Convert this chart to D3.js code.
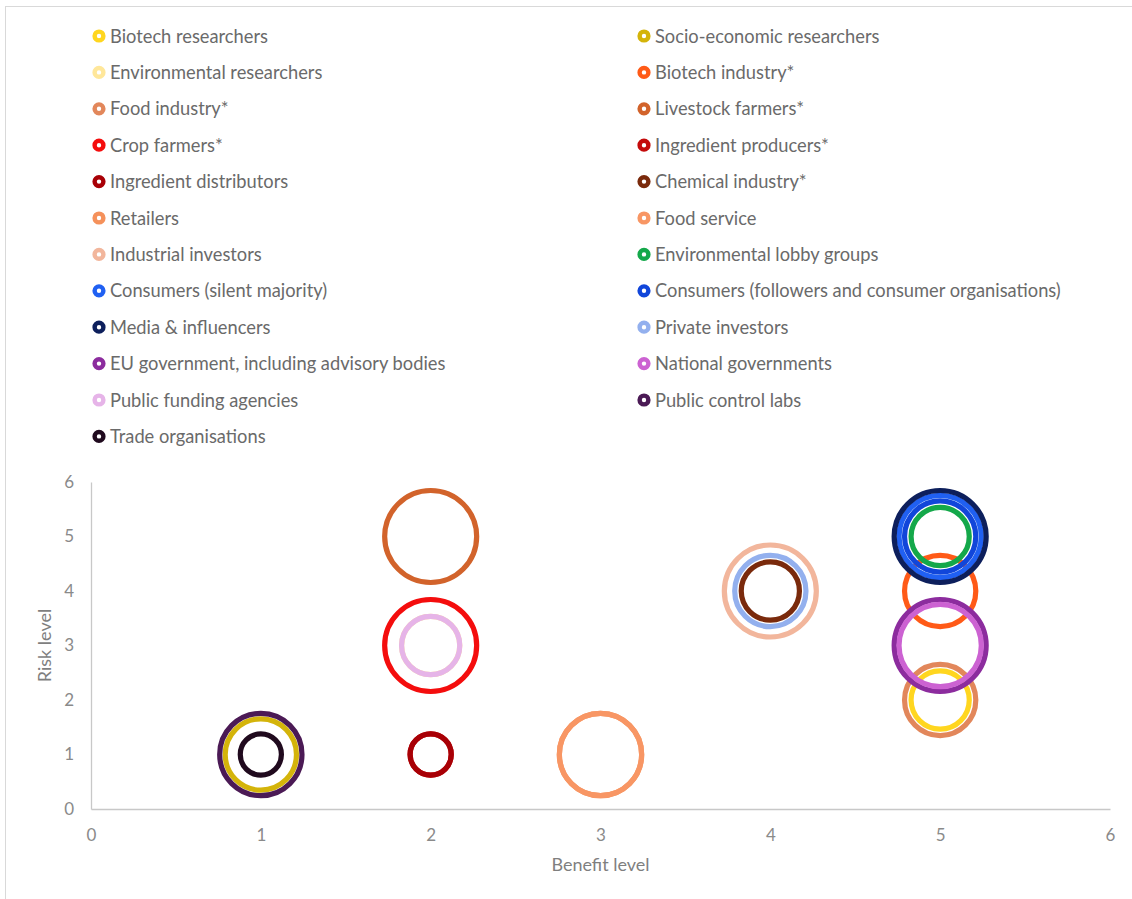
<!DOCTYPE html>
<html>
<head>
<meta charset="utf-8">
<script src="https://cdn.jsdelivr.net/npm/d3@7"></script>
<style>
  html, body { margin: 0; padding: 0; background: #fff; }
  svg { display: block; font-family: Lato, "Open Sans", sans-serif; }
</style>
</head>
<body>
<svg id="chart" width="1132" height="899"></svg>
<script>
// Stakeholder groups, in series order (later series are painted on top)
const stakeholders = [
  "Biotech researchers", "Socio-economic researchers", "Environmental researchers",
  "Biotech industry*", "Food industry*", "Livestock farmers*", "Crop farmers*",
  "Ingredient producers*", "Ingredient distributors", "Chemical industry*",
  "Retailers", "Food service", "Industrial investors", "Environmental lobby groups",
  "Consumers (silent majority)", "Consumers (followers and consumer organisations)",
  "Media & influencers", "Private investors", "EU government, including advisory bodies",
  "National governments", "Public funding agencies", "Public control labs",
  "Trade organisations"
];
const benefitLevel = [5, 1, 2, 5, 5, 2, 2, 2, 2, 4, 3, 3, 4, 5, 5, 5, 5, 4, 5, 5, 2, 1, 1];
const riskLevel    = [2, 1, 3, 4, 2, 5, 3, 1, 1, 4, 1, 1, 4, 5, 5, 5, 5, 4, 3, 3, 3, 1, 1];
const bubbleSize   = [2, 3, 2, 3, 3, 5, 5, 1, 1, 2, 4, 4, 5, 2, 4, 3, 5, 3, 5, 4, 2, 4, 1];
const seriesColors = [
  "#FFD61F", "#D4B40A", "#FFE79A", "#FF5A17", "#E2875B", "#D2632B", "#F40D0D",
  "#C40A0A", "#A80006", "#7A2A0C", "#F5915B", "#F89664", "#F2B69C", "#14A84A",
  "#2060F2", "#1146DA", "#0D1F5C", "#93B0EE", "#8C2C9E", "#CC62D2", "#E6B4E8",
  "#4B1A55", "#200A1E"
];
const xTicks = [0, 1, 2, 3, 4, 5, 6];
const yTicks = [0, 1, 2, 3, 4, 5, 6];

const svg = d3.select("#chart");

// Chart-area border
svg.append("rect")
  .attr("x", 5.5).attr("y", 6.5)
  .attr("width", 1140).attr("height", 900)
  .attr("fill", "none").attr("stroke", "#D9D9D9").attr("stroke-width", 1);

// ---- Legend (two columns, row-major order) ----
const legendCols = [99, 644];
const legendTop = 36, legendStep = 36.4;
const legend = svg.append("g").attr("class", "legend");
stakeholders.forEach((name, i) => {
  const col = i % 2, row = Math.floor(i / 2);
  const g = legend.append("g")
    .attr("transform", `translate(${legendCols[col]},${legendTop + row * legendStep})`);
  g.append("circle")
    .attr("r", 4.4)
    .attr("fill", "#fff")
    .attr("stroke", seriesColors[i])
    .attr("stroke-width", 4.4);
  g.append("text")
    .attr("x", 11).attr("y", 6.5)
    .attr("fill", "#6A6A6A")
    .attr("font-size", 18.3)
    .text(name);
});

// ---- Plot area ----
const plot = { left: 91, right: 1110, top: 482, bottom: 809 };
const x = d3.scaleLinear().domain([0, 6]).range([plot.left, plot.right]);
const y = d3.scaleLinear().domain([0, 6]).range([plot.bottom, plot.top]);
const r = d3.scaleSqrt().domain([0, 5]).range([0, 46]);

const xAxis = svg.append("g")
  .attr("transform", `translate(0,${plot.bottom})`)
  .call(d3.axisBottom(x).tickValues(xTicks).tickFormat(d3.format("d"))
    .tickSize(0).tickPadding(20));
const yAxis = svg.append("g")
  .attr("transform", `translate(${plot.left},0)`)
  .call(d3.axisLeft(y).tickValues(yTicks).tickFormat(d3.format("d"))
    .tickSize(0).tickPadding(17));
[xAxis, yAxis].forEach(a => {
  a.select(".domain").attr("stroke", "#C8C8C8").attr("stroke-width", 1.3);
  a.selectAll("text")
    .attr("fill", "#8A8A8A")
    .attr("font-size", 17)
    .attr("font-family", "Lato, 'Open Sans', sans-serif");
});

// Axis titles
svg.append("text")
  .attr("x", (plot.left + plot.right) / 2).attr("y", 871)
  .attr("text-anchor", "middle")
  .attr("fill", "#7F7F7F").attr("font-size", 18)
  .text("Benefit level");
svg.append("text")
  .attr("transform", `translate(51,${(plot.top + plot.bottom) / 2}) rotate(-90)`)
  .attr("text-anchor", "middle")
  .attr("fill", "#7F7F7F").attr("font-size", 18)
  .text("Risk level");

// ---- Bubbles: outline-only rings, sized by area ----
const bubbles = stakeholders.map((name, i) => ({
  name, benefit: benefitLevel[i], risk: riskLevel[i],
  size: bubbleSize[i], color: seriesColors[i]
}));
svg.append("g").attr("class", "bubbles")
  .selectAll("circle")
  .data(bubbles)
  .join("circle")
  .attr("cx", d => x(d.benefit))
  .attr("cy", d => y(d.risk))
  .attr("r", d => r(d.size))
  .attr("fill", "none")
  .attr("stroke", d => d.color)
  .attr("stroke-width", 5.2);
</script>
</body>
</html>
